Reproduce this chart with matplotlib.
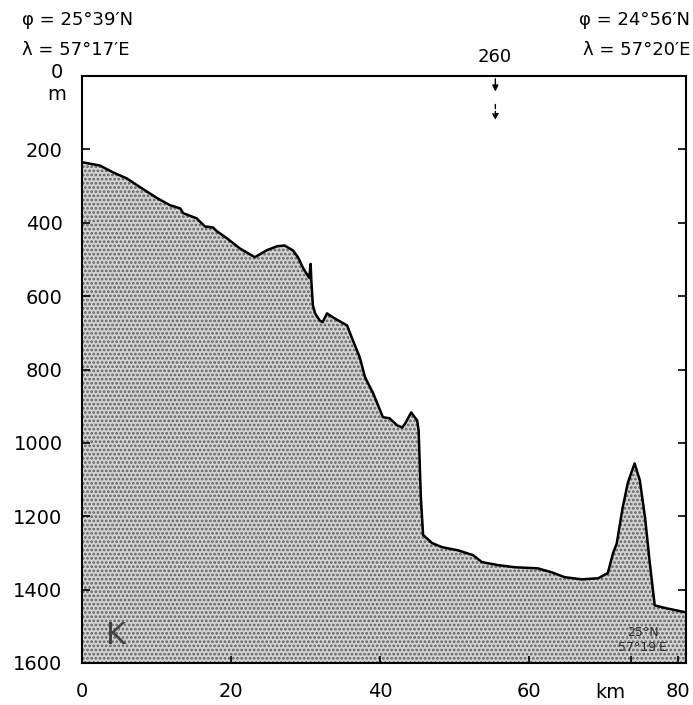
import numpy as np
import matplotlib
matplotlib.use("Agg")
import matplotlib.pyplot as plt

# Bathymetric profile (distance in km, depth in m)
distance_km = [0, 2.4, 4.2, 6.0, 7.8, 10.1, 11.8, 13.2, 13.6, 15.4,
               16.5, 17.6, 18.1, 19.5, 21.2, 23.2, 24.8, 26.2, 27.2, 28.3,
               29.0, 29.7, 30.5, 30.7, 30.8, 31.0, 31.3, 31.9, 32.3, 32.9,
               33.7, 35.6, 36.2, 37.3, 38.0, 39.1, 40.4, 41.3, 42.3, 43.0,
               43.4, 44.2, 45.0, 45.2, 45.5, 45.8, 47.0, 48.3, 50.5, 52.5,
               53.7, 55.8, 58.1, 61.2, 63.1, 64.8, 67.1, 69.3, 70.6, 71.3,
               71.8, 72.6, 73.3, 74.2, 74.9, 75.6, 76.2, 76.9, 78.5, 81.1]
depth_m = [235, 244, 263, 279, 303, 333, 352, 361, 374, 388,
           410, 413, 423, 443, 470, 494, 475, 464, 462, 475,
           494, 524, 550, 512, 560, 625, 647, 666, 671, 647,
           658, 680, 712, 767, 821, 865, 930, 933, 952, 958,
           947, 917, 939, 966, 1150, 1251, 1273, 1284, 1293, 1306,
           1325, 1333, 1339, 1342, 1353, 1366, 1372, 1369, 1355, 1301,
           1274, 1176, 1108, 1056, 1102, 1203, 1320, 1443, 1451, 1462]

x_ticks = [0, 20, 40, 60, 80]
y_ticks = [0, 200, 400, 600, 800, 1000, 1200, 1400, 1600]
y_labels = ["", "200", "400", "600", "800", "1000", "1200", "1400", "1600"]
station_km = 55.5
station_label = "260"

plt.rcParams["font.family"] = "DejaVu Sans"
plt.rcParams["hatch.linewidth"] = 1.3
plt.rcParams["hatch.color"] = "#606060"

fig = plt.figure(figsize=(6.93, 7.05), dpi=100)
W, H = 693, 705
ax = fig.add_axes([82 / W, 1 - 663 / H, (686 - 82) / W, (663 - 76) / H])

# stippled sea floor
ax.fill_between(distance_km, depth_m, 1600, facecolor="#d2d2d2",
                hatch="....", edgecolor="#606060", linewidth=0)
ax.plot(distance_km, depth_m, color="black", lw=1.8, solid_joinstyle="round")

ax.set_xlim(0, 81.1)
ax.set_ylim(1600, 0)
ax.set_xticks(x_ticks)
ax.set_xticks([73.7], minor=True)
ax.set_yticks(y_ticks)
ax.set_yticklabels(y_labels)
ax.tick_params(axis="x", which="both", direction="in", length=5, width=1.2,
               labelsize=14, pad=14, top=False)
ax.tick_params(axis="y", direction="in", length=6, width=1.2,
               labelsize=14, pad=14, right=True)
for s in ax.spines.values():
    s.set_linewidth(1.5)

# station arrow at the top
ax.annotate("", xy=(station_km, 50), xytext=(station_km, 0),
            arrowprops=dict(arrowstyle="-|>", color="black", lw=1.0,
                            mutation_scale=9))
ax.annotate("", xy=(station_km, 128), xytext=(station_km, 70),
            arrowprops=dict(arrowstyle="-|>", color="black", lw=1.0,
                            linestyle=(0, (3, 2)), mutation_scale=9))

def px(x, y):
    return x / W, 1 - y / H

fig.text(*px(495, 57), station_label, fontsize=13, ha="center", va="center")
fig.text(*px(22, 20), "φ = 25°39′N", fontsize=13, ha="left", va="center")
fig.text(*px(22, 50), "λ = 57°17′E", fontsize=13, ha="left", va="center")
fig.text(*px(690, 20), "φ = 24°56′N", fontsize=13, ha="right", va="center")
fig.text(*px(690, 50), "λ = 57°20′E", fontsize=13, ha="right", va="center")
fig.text(*px(57, 73), "0", fontsize=14, ha="center", va="center")
fig.text(*px(57, 94), "m", fontsize=14, ha="center", va="center")
fig.text(*px(610, 692), "km", fontsize=14, ha="center", va="center")

ax.text(4.5, 1525, "K", fontsize=22, color="#454545", ha="center", va="center")
ax.text(75.3, 1518, "25°N", fontsize=9, color="#303030", ha="center", va="center")
ax.text(75.3, 1557, "57°19′E", fontsize=9, color="#303030", ha="center", va="center")

fig.savefig("out.png", dpi=100)
